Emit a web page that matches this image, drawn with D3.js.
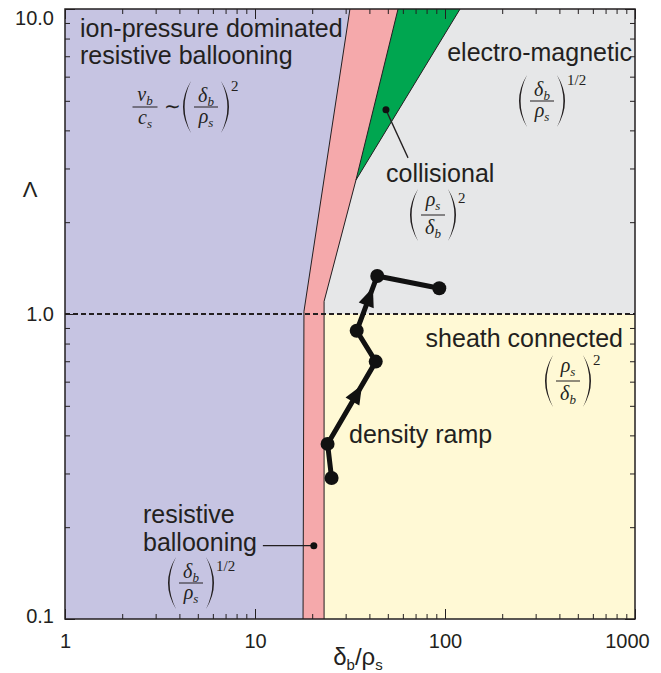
<!DOCTYPE html>
<html><head><meta charset="utf-8">
<script src="https://cdn.jsdelivr.net/npm/d3@7"></script>
<style>
body{margin:0;background:#fff;}
svg{display:block;}
text{font-family:"Liberation Sans",Arial,Helvetica,sans-serif;fill:#231f20;}
.math{font-family:"Liberation Serif","Times New Roman",serif;font-style:italic;}
.mathup{font-family:"Liberation Serif","Times New Roman",serif;font-style:normal;}
</style></head><body>
<svg id="chart" width="661" height="673"></svg>
<script>
// Regime boundaries in (δb/ρs, Λ)
const pinkLeftEdge  = [[17.9, 0.1], [18.1, 1.02], [31.6, 10]];
const pinkRightEdge = [[56.6, 10], [34, 2.75], [23.1, 1.1], [23.1, 0.1]];
const greenRightEdge = [[34, 2.75], [120, 10]];
const sheathLambda = 1.0;

// Density ramp trajectory
const rampX = [25.3, 24.1, 43.2, 34.3, 44.0, 93.3];
const rampY = [0.29, 0.375, 0.698, 0.881, 1.333, 1.214];
const rampArrowSegments = [1, 3];

// Axis ticks
const xMajor = [1, 10, 100, 1000];
const xLabels = ["1", "10", "100", "1000"];
const yMajor = [0.1, 1, 10];
const yLabels = ["0.1", "1.0", "10.0"];

// Pointer annotations (dot, tail)
const collisionalPointer = [[48.9, 4.67], [63.9, 3.25]];
const resistivePointer = [[20.4, 0.174], [11.0, 0.174]];

const colors = {
  lav: "#c6c4e2", pink: "#f5a9ab", green: "#00a650",
  gray: "#e6e7e8", yellow: "#fff9d5", ink: "#231f20"
};

const svg = d3.select("#chart");
const L = 65, R = 635, T = 9, B = 619;
const x = d3.scaleLog().domain([1, 1000]).range([L, R]);
const y = d3.scaleLog().domain([0.1, 10]).range([B, T]);
const pt = d => [x(d[0]), y(d[1])];
const poly = pts => "M" + pts.map(d => pt(d).join(",")).join("L") + "Z";
const pline = pts => "M" + pts.map(d => pt(d).join(",")).join("L");

// Regions
svg.append("rect").attr("x", L).attr("y", T).attr("width", R - L).attr("height", B - T).attr("fill", colors.lav);
const xMax = x.domain()[1], yMin = y.domain()[0], yMaxD = y.domain()[1];
const rightX = pinkRightEdge[pinkRightEdge.length - 1][0];
svg.append("path").attr("d", poly([[rightX, yMin], [rightX, sheathLambda], [xMax, sheathLambda], [xMax, yMin]])).attr("fill", colors.yellow);
svg.append("path").attr("d", poly([[rightX, sheathLambda], pinkRightEdge[2], pinkRightEdge[1], greenRightEdge[1], [xMax, yMaxD], [xMax, sheathLambda]])).attr("fill", colors.gray);
svg.append("path").attr("d", poly(pinkLeftEdge.concat(pinkRightEdge))).attr("fill", colors.pink);
svg.append("path").attr("d", poly([pinkRightEdge[1], pinkRightEdge[0], greenRightEdge[1]])).attr("fill", colors.green);

[pinkLeftEdge, pinkRightEdge, greenRightEdge].forEach(e =>
  svg.append("path").attr("d", pline(e)).attr("fill", "none").attr("stroke", colors.ink).attr("stroke-width", 1));

// Sheath boundary
svg.append("line").attr("x1", L).attr("x2", R).attr("y1", y(sheathLambda)).attr("y2", y(sheathLambda))
  .attr("stroke", colors.ink).attr("stroke-width", 1.8).attr("stroke-dasharray", "5,3");

// Axes with inward ticks
const xMinor = x.ticks().filter(v => !xMajor.includes(v));
const yMinor = y.ticks().filter(v => !yMajor.some(m => Math.abs(m - v) < 1e-9));
function addAxis(axisFn, scale, tr, minor, major, labels, pad) {
  const gMin = svg.append("g").attr("transform", tr)
    .call(axisFn(scale).tickValues(minor).tickSize(-5).tickFormat(""));
  const gMaj = svg.append("g").attr("transform", tr)
    .call(axisFn(scale).tickValues(major).tickSize(-10).tickPadding(pad)
      .tickFormat((d, i) => labels ? labels[i] : ""));
  [gMin, gMaj].forEach(g => {
    g.select(".domain").remove();
    g.selectAll("line").attr("stroke", colors.ink).attr("stroke-width", 1);
    g.selectAll("text").attr("font-size", 20).attr("fill", colors.ink)
      .attr("font-family", '"Liberation Sans",Arial,sans-serif');
  });
  return gMaj;
}
const gxB = addAxis(d3.axisBottom, x, `translate(0,${B})`, xMinor, xMajor, xLabels, 15);
addAxis(d3.axisTop, x, `translate(0,${T})`, xMinor, xMajor, null, 3);
const gyL = addAxis(d3.axisLeft, y, `translate(${L},0)`, yMinor, yMajor, yLabels, 11);
addAxis(d3.axisRight, y, `translate(${R},0)`, yMinor, yMajor, null, 3);
gxB.selectAll("text").filter(d => d === 1000).attr("dx", -8);
gyL.selectAll("text").filter(d => d === 10).attr("transform", "translate(0,9)");
gyL.selectAll("text").filter(d => d === 0.1).attr("transform", "translate(0,-3)");

// Frame
svg.append("rect").attr("x", L).attr("y", T).attr("width", R - L).attr("height", B - T)
  .attr("fill", "none").attr("stroke", colors.ink).attr("stroke-width", 1.5);

// Axis titles
svg.append("text").attr("x", 30).attr("y", 197).attr("text-anchor", "middle").attr("font-size", 22).text("Λ");
const xt = svg.append("text").attr("x", 358).attr("y", 665).attr("text-anchor", "middle").attr("font-size", 24);
xt.append("tspan").text("δ");
xt.append("tspan").attr("font-size", 15).attr("dy", 5).text("b");
xt.append("tspan").attr("dy", -5).text("/ρ");
xt.append("tspan").attr("font-size", 15).attr("dy", 5).text("s");

// Region labels
const labelSize = 25;
function label(txt, px, py, anchor) {
  svg.append("text").attr("x", px).attr("y", py).attr("text-anchor", anchor || "start")
    .attr("font-size", labelSize).text(txt);
}
label("ion-pressure dominated", 80, 37);
label("resistive ballooning", 80, 64);
label("electro-magnetic", 632, 61, "end");
label("collisional", 386, 182);
label("sheath connected", 623, 347, "end");
label("density ramp", 349, 443);
label("resistive", 143, 523);
label("ballooning", 143, 551);

// Scaling formulas
const inkFill = colors.ink;
function paren(g, x0, cy, h, w, side) {
  const top = cy - h / 2, bot = cy + h / 2, t = 1.6;
  let p;
  if (side < 0) {
    const xe = x0 + w;
    p = `M${xe},${top}Q${x0 - w},${cy} ${xe},${bot}Q${x0 - w + 2 * t},${cy} ${xe},${top}Z`;
  } else {
    p = `M${x0},${top}Q${x0 + 2 * w},${cy} ${x0},${bot}Q${x0 + 2 * w - 2 * t},${cy} ${x0},${top}Z`;
  }
  g.append("path").attr("d", p).attr("fill", inkFill);
}
function mathSym(g, cx, by, base, sub) {
  const t = g.append("text").attr("class", "math").attr("x", cx).attr("y", by)
    .attr("text-anchor", "middle").attr("font-size", 20);
  t.append("tspan").text(base);
  t.append("tspan").attr("font-size", 13).attr("dy", 4).text(sub);
}
const numShift = {"δ": -5, "ρ": -9, "v": -6};
const denShift = {"δ": 19, "ρ": 16, "c": 17};
function frac(g, cx, cy, num, den, bar) {
  g.append("line").attr("x1", cx - bar / 2).attr("x2", cx + bar / 2).attr("y1", cy).attr("y2", cy)
    .attr("stroke", inkFill).attr("stroke-width", 1);
  mathSym(g, cx, cy + numShift[num[0]], num[0], num[1]);
  mathSym(g, cx, cy + denShift[den[0]], den[0], den[1]);
}
function scaling(cx, cy, num, den, exp, expRise) {
  const g = svg.append("g");
  const bar = 24, gap = 3, pw = 8, h = 52;
  frac(g, cx, cy, num, den, bar);
  paren(g, cx - bar / 2 - gap - pw, cy, h, pw, -1);
  paren(g, cx + bar / 2 + gap, cy, h, pw, 1);
  g.append("text").attr("class", "mathup").attr("x", cx + bar / 2 + gap + pw + 2)
    .attr("y", cy - (expRise || 16)).attr("font-size", 15).text(exp);
  return g;
}
const dRho = [["δ", "b"], ["ρ", "s"]];
const rhoD = [["ρ", "s"], ["δ", "b"]];
// v_b / c_s ~ (δb/ρs)^2
const gv = svg.append("g");
frac(gv, 145, 107, ["v", "b"], ["c", "s"], 25);
gv.append("text").attr("class", "mathup").attr("x", 172).attr("y", 113).attr("text-anchor", "middle")
  .attr("font-size", 20).text("∼");
scaling(206, 107, dRho[0], dRho[1], "2");
scaling(542, 101, dRho[0], dRho[1], "1/2");
scaling(433, 215, rhoD[0], rhoD[1], "2", 12);
scaling(568, 381, rhoD[0], rhoD[1], "2");
scaling(191, 583, dRho[0], dRho[1], "1/2", 12);

// Pointers
[collisionalPointer, resistivePointer].forEach(p => {
  const a = pt(p[0]), b = pt(p[1]);
  svg.append("line").attr("x1", a[0]).attr("y1", a[1]).attr("x2", b[0]).attr("y2", b[1])
    .attr("stroke", colors.ink).attr("stroke-width", 1.3);
  svg.append("circle").attr("cx", a[0]).attr("cy", a[1]).attr("r", 3.5).attr("fill", "#111");
});

// Density ramp trajectory
const ramp = rampX.map((v, i) => [v, rampY[i]]);
svg.append("path").attr("d", d3.line().x(d => x(d[0])).y(d => y(d[1]))(ramp))
  .attr("fill", "none").attr("stroke", "#111").attr("stroke-width", 5).attr("stroke-linejoin", "round");
rampArrowSegments.forEach(i => {
  const a = pt(ramp[i]), b = pt(ramp[i + 1]);
  const t = 0.6, mx = a[0] + (b[0] - a[0]) * t, my = a[1] + (b[1] - a[1]) * t;
  const ang = Math.atan2(b[1] - a[1], b[0] - a[0]) * 180 / Math.PI;
  svg.append("path").attr("d", "M11,0L-8,-8L-8,8Z").attr("fill", "#111")
    .attr("transform", `translate(${mx},${my}) rotate(${ang})`);
});
svg.selectAll(null).data(ramp).enter().append("circle")
  .attr("cx", d => x(d[0])).attr("cy", d => y(d[1])).attr("r", 7).attr("fill", "#111");
</script>
</body></html>
